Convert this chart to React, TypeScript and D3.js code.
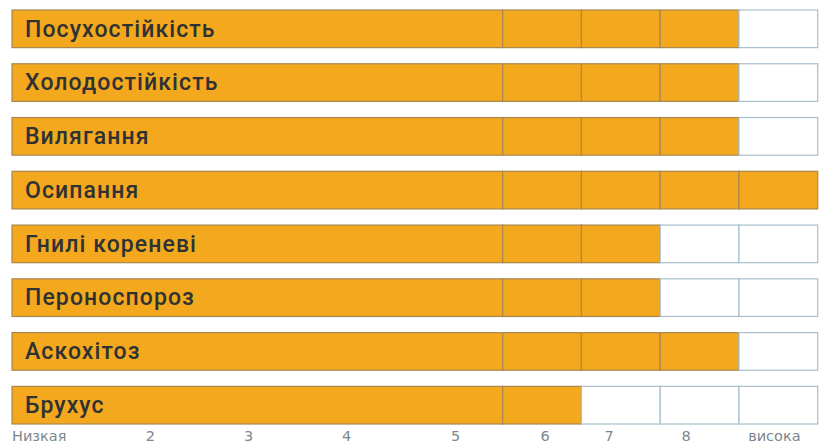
import React, { useEffect, useRef } from 'react';
import * as d3 from 'd3';

const traits = [
  'Посухостійкість',
  'Холодостійкість',
  'Вилягання',
  'Осипання',
  'Гнилі кореневі',
  'Пероноспороз',
  'Аскохітоз',
  'Брухус',
];
const scores = [8, 8, 8, 9, 7, 7, 8, 6];

// grid cells along the scale: one wide block for 1..5, then single cells
const cellEdges = [0, 5, 6, 7, 8, 9];

const tickLabels = ['Низкая', '2', '3', '4', '5', '6', '7', '8', 'висока'];
const tickValues = [0, 1.41, 2.41, 3.41, 4.52, 5.54, 6.35, 7.33, 8.45];

const App = () => {
  const svgRef = useRef<SVGSVGElement>(null);

  useEffect(() => {
    const W = 824, H = 443;
    const svg = d3.select(svgRef.current).attr('width', W).attr('height', H);
    svg.selectAll('*').remove();

    const x = d3.scaleLinear().domain([0, 5, 9]).range([12, 502.7, 817.7]);
    const y = d3.scaleBand().domain(traits).range([10, 424]).paddingInner(0.3).paddingOuter(0);

    const orange = '#f3a81e';
    const cells = d3.pairs(cellEdges);

    const rows = svg.selectAll('g.row')
      .data(traits.map((t, i) => ({ name: t, score: scores[i] })))
      .join('g')
      .attr('class', 'row')
      .attr('transform', (d) => `translate(0,${y(d.name)})`);

    rows.selectAll('rect')
      .data((d) => cells.map(([a, b]) => ({ a, b, filled: b <= d.score })))
      .join('rect')
      .attr('x', (c) => x(c.a))
      .attr('y', 0)
      .attr('width', (c) => x(c.b) - x(c.a))
      .attr('height', y.bandwidth())
      .attr('fill', (c) => (c.filled ? orange : '#ffffff'))
      .attr('stroke', (c) => (c.filled ? '#a9874e' : '#a7bfcc'))
      .attr('stroke-width', 1.2);

    rows.append('text')
      .attr('x', 25)
      .attr('y', y.bandwidth() / 2 + 7.8)
      .attr('font-family', 'Roboto, sans-serif')
      .attr('font-size', 23)
      .attr('font-weight', 500)
      .attr('letter-spacing', 1.1)
      .attr('fill', '#2f3234')
      .text((d) => d.name);

    svg.selectAll('text.tick')
      .data(tickLabels.map((l, i) => ({ l, v: tickValues[i] })))
      .join('text')
      .attr('class', 'tick')
      .attr('x', (d) => x(d.v))
      .attr('y', 441)
      .attr('text-anchor', (d, i) => (i === 0 ? 'start' : 'middle'))
      .attr('font-family', 'DejaVu Sans, sans-serif')
      .attr('font-size', 14.5)
      .attr('fill', '#7b878f')
      .text((d) => d.l);
  }, []);

  return (
    <div style={{ position: 'absolute', left: 0, top: 0, background: '#fff' }}>
      <svg ref={svgRef}></svg>
    </div>
  );
};

export default App;
